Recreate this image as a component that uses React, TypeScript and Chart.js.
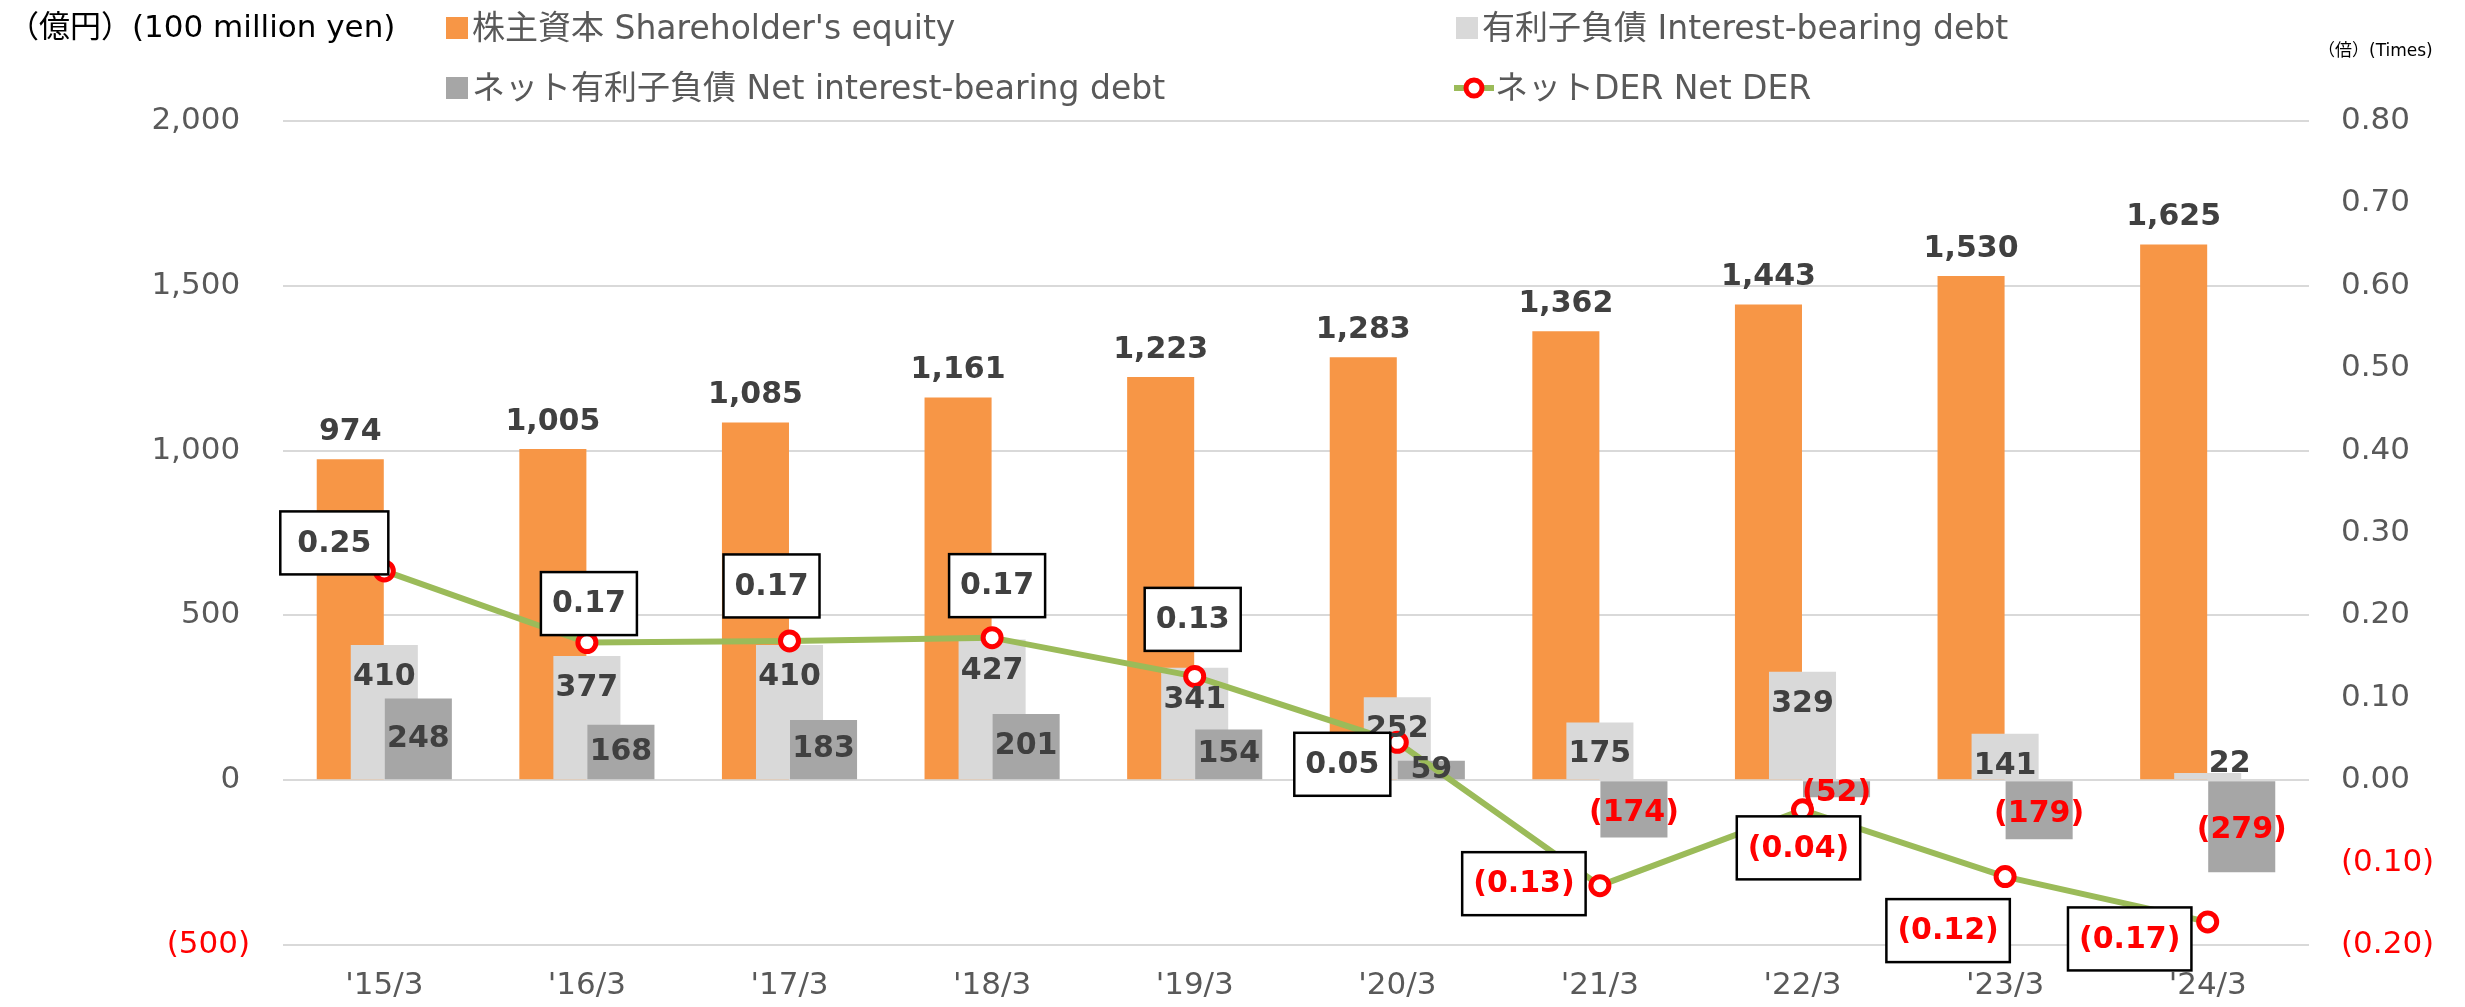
import React, { useEffect, useRef } from "react";
import { Chart, registerables } from "chart.js";

Chart.register(...registerables);

// ---- data ----
const categories = ["'15/3", "'16/3", "'17/3", "'18/3", "'19/3", "'20/3", "'21/3", "'22/3", "'23/3", "'24/3"];
const equity = [974, 1005, 1085, 1161, 1223, 1283, 1362, 1443, 1530, 1625];
const interestDebt = [410, 377, 410, 427, 341, 252, 175, 329, 141, 22];
const netDebt = [248, 168, 183, 201, 154, 59, -174, -52, -179, -279];
const netDer = [0.254, 0.167, 0.169, 0.173, 0.126, 0.046, -0.128, -0.036, -0.117, -0.172];

const seriesNames = [
  "株主資本 Shareholder's equity",
  "有利子負債 Interest-bearing debt",
  "ネット有利子負債 Net interest-bearing debt",
  "ネットDER Net DER",
];
const leftAxisTitle = "（億円）(100 million yen)";
const rightAxisTitle = "（倍）(Times)";

// ---- layout / style (not data) ----
const derLabelOffsets = [
  [-50, -28], [2, -39], [-18, -55], [5, -52], [-2, -57],
  [-55, 22], [-76, -2], [-4, 38], [-57, 54], [-78, 17],
];

const ORANGE = "#F79646";
const LIGHT = "#D9D9D9";
const DARK = "#A6A6A6";
const GREEN = "#9BBB59";
const RED = "#FF0000";
const TXT = "#595959";
const LBL = "#404040";
const FONT = "'DejaVu Sans', 'Noto Sans CJK JP', sans-serif";

const fmtInt = (v: number) => {
  const s = Math.abs(v).toLocaleString("en-US");
  return v < 0 ? `(${s})` : s;
};
const fmtDec = (v: number) => {
  const s = Math.abs(v).toFixed(2);
  return v < -1e-9 ? `(${s})` : s;
};

const drawOrderPlugin = {
  id: "drawOrder",
  beforeDatasetsDraw(chart: any) {
    const metas = chart.getSortedVisibleDatasetMetas().slice().sort((a: any, b: any) => a.index - b.index);
    for (const m of metas) chart._drawDataset(m);
    return false;
  },
};

const labelsPlugin = {
  id: "labels",
  afterDraw(chart: any) {
    const ctx = chart.ctx as CanvasRenderingContext2D;
    ctx.save();
    ctx.textAlign = "center";
    ctx.textBaseline = "middle";
    ctx.font = `bold 30px ${FONT}`;

    // equity labels
    const m0 = chart.getDatasetMeta(0);
    m0.data.forEach((el: any, i: number) => {
      ctx.fillStyle = LBL;
      ctx.fillText(fmtInt(equity[i]), el.x, el.y - 27);
    });
    // interest-bearing debt labels
    const m1 = chart.getDatasetMeta(1);
    m1.data.forEach((el: any, i: number) => {
      const h = el.base - el.y;
      ctx.fillStyle = LBL;
      const y = h > 30 ? el.y + 32 : el.y - 9;
      ctx.fillText(fmtInt(interestDebt[i]), h > 30 ? el.x : el.x + 22, y);
    });
    // net debt labels
    const m2 = chart.getDatasetMeta(2);
    m2.data.forEach((el: any, i: number) => {
      const v = netDebt[i];
      ctx.fillStyle = v < 0 ? RED : LBL;
      ctx.fillText(fmtInt(v), el.x, (el.y + el.base) / 2 + (v < 0 ? 4 : 0));
    });
    // DER boxes
    const m3 = chart.getDatasetMeta(3);
    m3.data.forEach((el: any, i: number) => {
      const v = netDer[i];
      const t = fmtDec(v);
      const w = ctx.measureText(t).width + (i === 0 ? 34 : 22);
      const h = 63;
      const cx = el.x + derLabelOffsets[i][0];
      const cy = el.y + derLabelOffsets[i][1];
      ctx.fillStyle = "#FFFFFF";
      ctx.fillRect(cx - w / 2, cy - h / 2, w, h);
      ctx.lineWidth = 2.5;
      ctx.strokeStyle = "#000000";
      ctx.strokeRect(cx - w / 2, cy - h / 2, w, h);
      ctx.fillStyle = v < 0 ? RED : LBL;
      ctx.fillText(t, cx, cy + 1);
    });

    // axis titles
    ctx.textAlign = "left";
    ctx.font = `31px ${FONT}`;
    ctx.fillStyle = "#000000";
    ctx.fillText(leftAxisTitle, 8, 29);
    ctx.font = `17px ${FONT}`;
    ctx.fillText(rightAxisTitle, 2318, 52);

    // legend
    ctx.font = `33px ${FONT}`;
    const sq = 22;
    const items = [
      { x: 446, y: 28, color: ORANGE, text: seriesNames[0] },
      { x: 1456, y: 28, color: LIGHT, text: seriesNames[1] },
      { x: 446, y: 88, color: DARK, text: seriesNames[2] },
    ];
    items.forEach((it) => {
      ctx.fillStyle = it.color;
      ctx.fillRect(it.x, it.y - sq / 2, sq, sq);
      ctx.fillStyle = TXT;
      ctx.fillText(it.text, it.x + sq + 4, it.y + 2);
    });
    // line legend
    ctx.strokeStyle = GREEN;
    ctx.lineWidth = 6;
    ctx.beginPath();
    ctx.moveTo(1454, 88);
    ctx.lineTo(1494, 88);
    ctx.stroke();
    ctx.beginPath();
    ctx.arc(1474, 88, 8, 0, Math.PI * 2);
    ctx.fillStyle = "#FFFFFF";
    ctx.fill();
    ctx.strokeStyle = RED;
    ctx.lineWidth = 5;
    ctx.stroke();
    ctx.fillStyle = TXT;
    ctx.fillText(seriesNames[3], 1495, 90);

    ctx.restore();
  },
};

export default function App() {
  const ref = useRef<HTMLCanvasElement | null>(null);

  useEffect(() => {
    document.body.style.margin = "0";
    const canvas = ref.current;
    if (!canvas) return;
    const barCommon = {
      categoryPercentage: 0.504,
      barPercentage: 1.97,
      borderWidth: 0,
      yAxisID: "y",
    };
    const chart = new Chart(canvas, {
      type: "bar",
      data: {
        labels: categories,
        datasets: [
          { ...barCommon, label: seriesNames[0], data: equity, backgroundColor: ORANGE },
          { ...barCommon, label: seriesNames[1], data: interestDebt, backgroundColor: LIGHT },
          { ...barCommon, label: seriesNames[2], data: netDebt, backgroundColor: DARK },
          {
            type: "line",
            label: seriesNames[3],
            data: netDer,
            yAxisID: "y1",
            borderColor: GREEN,
            borderWidth: 6,
            tension: 0,
            pointRadius: 9,
            pointBorderWidth: 5,
            pointBackgroundColor: "#FFFFFF",
            pointBorderColor: RED,
          } as any,
        ],
      },
      options: {
        responsive: false,
        animation: false,
        events: [],
        layout: { padding: { top: 121, left: 0, right: 0, bottom: 0 } },
        plugins: {
          legend: { display: false },
          tooltip: { enabled: false },
          title: { display: false },
        },
        scales: {
          x: {
            type: "category",
            offset: true,
            grid: { display: false, drawTicks: false },
            border: { display: false },
            ticks: {
              color: TXT,
              font: { family: FONT, size: 31 },
              padding: 22,
              maxRotation: 0,
            },
            afterFit: (s: any) => {
              s.height = 62;
            },
          },
          y: {
            type: "linear",
            position: "left",
            min: -500,
            max: 2000,
            grid: { color: LIGHT, lineWidth: 2, drawTicks: false },
            border: { display: false },
            ticks: {
              stepSize: 500,
              padding: 33,
              font: { family: FONT, size: 31 },
              color: (c: any) => (c.tick && c.tick.value < 0 ? RED : TXT),
              callback: (v: any) => (v < 0 ? fmtInt(v) : fmtInt(v) + " "),
            },
            afterFit: (s: any) => {
              s.width = 283;
            },
          },
          y1: {
            type: "linear",
            position: "right",
            min: -0.2,
            max: 0.8,
            grid: { display: false, drawTicks: false },
            border: { display: false },
            ticks: {
              stepSize: 0.1,
              padding: 32,
              font: { family: FONT, size: 31 },
              color: (c: any) => (c.tick && c.tick.value < -1e-9 ? RED : TXT),
              callback: (v: any) => fmtDec(Number(v)),
            },
            afterFit: (s: any) => {
              s.width = 156;
            },
          },
        },
      },
      plugins: [drawOrderPlugin, labelsPlugin],
    } as any);
    return () => chart.destroy();
  }, []);

  return (
    <div style={{ width: 2465, height: 1007 }}>
      <canvas ref={ref} width={2465} height={1007} style={{ display: "block" }} />
    </div>
  );
}
